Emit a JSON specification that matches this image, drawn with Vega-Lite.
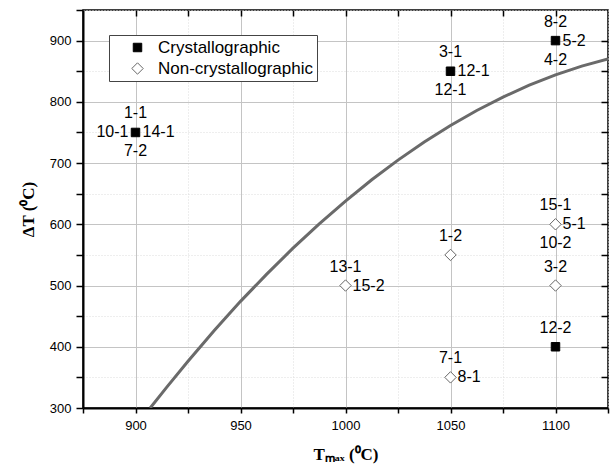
{
  "$schema": "https://vega.github.io/schema/vega-lite/v6.json",
  "width": 525,
  "height": 398,
  "autosize": {"type": "none"},
  "padding": {"left": 83, "top": 10, "right": 3, "bottom": 67},
  "background": "white",
  "config": {
    "view": {"stroke": "#000", "strokeWidth": 1.5},
    "font": "Liberation Sans"
  },
  "datasets": {
    "curve": [
      {"T": 907, "dT": 300}, {"T": 915, "dT": 334.6}, {"T": 925, "dT": 376.4},
      {"T": 937.5, "dT": 426.4}, {"T": 950, "dT": 474.2}, {"T": 962.5, "dT": 518.7},
      {"T": 975, "dT": 561}, {"T": 987.5, "dT": 600.8}, {"T": 1000, "dT": 638},
      {"T": 1012.5, "dT": 672.7}, {"T": 1025, "dT": 704.8}, {"T": 1037.5, "dT": 734.4},
      {"T": 1050, "dT": 761.4}, {"T": 1062.5, "dT": 785.9}, {"T": 1075, "dT": 807.8},
      {"T": 1087.5, "dT": 827.2}, {"T": 1100, "dT": 844}, {"T": 1112.5, "dT": 858.3},
      {"T": 1125, "dT": 870}
    ],
    "pts": [
      {"T": 900, "dT": 750, "type": "Crystallographic", "above": "1-1", "left": "10-1", "right": "14-1", "below": "7-2"},
      {"T": 1050, "dT": 850, "type": "Crystallographic", "above": "3-1", "right": "12-1", "below": "12-1"},
      {"T": 1100, "dT": 900, "type": "Crystallographic", "above": "8-2", "right": "5-2", "below": "4-2"},
      {"T": 1100, "dT": 400, "type": "Crystallographic", "above": "12-2"},
      {"T": 1000, "dT": 500, "type": "Non-crystallographic", "above": "13-1", "right": "15-2"},
      {"T": 1050, "dT": 550, "type": "Non-crystallographic", "above": "1-2"},
      {"T": 1050, "dT": 350, "type": "Non-crystallographic", "above": "7-1", "right": "8-1"},
      {"T": 1100, "dT": 600, "type": "Non-crystallographic", "above": "15-1", "right": "5-1", "below": "10-2"},
      {"T": 1100, "dT": 500, "type": "Non-crystallographic", "above": "3-2"}
    ]
  },
  "resolve": {"axis": {"x": "independent", "y": "independent"}},
  "layer": [
    {
      "data": {"name": "curve"},
      "mark": {"type": "line", "color": "#6a6a6a", "strokeWidth": 3, "clip": true},
      "encoding": {
        "x": {
          "field": "T", "type": "quantitative",
          "scale": {"domain": [875, 1125], "nice": false, "zero": false},
          "axis": {
            "orient": "bottom", "format": "d",
            "values": [875, 900, 925, 950, 975, 1000, 1025, 1050, 1075, 1100, 1125],
            "labelExpr": "datum.value % 50 === 0 ? datum.label : ''",
            "labelFontSize": 13, "labelColor": "#000", "labelPadding": 6,
            "labelFlush": false, "labelOverlap": false,
            "domainColor": "#000", "domainWidth": 2,
            "tickColor": "#000", "tickWidth": 1.5, "tickSize": 5,
            "grid": true,
            "gridColor": {"condition": {"test": "datum.value % 50 === 0", "value": "#c4c4c4"}, "value": "#dddddd"},
            "gridDash": {"condition": {"test": "datum.value % 50 === 0", "value": []}, "value": [1, 2]},
            "gridWidth": 1,
            "title": "Tₘₐₓ (⁰C)",
            "titleFont": "Liberation Serif", "titleFontWeight": "bold", "titleFontSize": 17,
            "titleColor": "#000", "titlePadding": 14
          }
        },
        "y": {
          "field": "dT", "type": "quantitative",
          "scale": {"domain": [300, 950], "nice": false, "zero": false},
          "axis": {
            "orient": "left", "format": "d",
            "values": [300, 350, 400, 450, 500, 550, 600, 650, 700, 750, 800, 850, 900, 950],
            "labelExpr": "datum.value % 100 === 0 ? datum.label : ''",
            "labelFontSize": 13, "labelColor": "#000", "labelPadding": 5,
            "labelFlush": false, "labelOverlap": false,
            "domainColor": "#000", "domainWidth": 2,
            "tickColor": "#000", "tickWidth": 1.5, "tickSize": 7,
            "grid": true,
            "gridColor": {"condition": {"test": "datum.value % 100 === 0", "value": "#c4c4c4"}, "value": "#dddddd"},
            "gridDash": {"condition": {"test": "datum.value % 100 === 0", "value": []}, "value": [1, 2]},
            "gridWidth": 1,
            "title": "ΔT (⁰C)",
            "titleFont": "Liberation Serif", "titleFontWeight": "bold", "titleFontSize": 17,
            "titleColor": "#000", "titlePadding": 12
          }
        }
      }
    },
    {
      "data": {"name": "pts"},
      "mark": {"type": "point", "filled": true, "opacity": 1, "strokeWidth": 1},
      "encoding": {
        "x": {
          "field": "T", "type": "quantitative",
          "axis": {
            "orient": "top", "labels": false, "title": null, "grid": false, "ticks": true,
            "values": [900, 925, 950, 975, 1000, 1025, 1050, 1075, 1100],
            "domain": false, "tickColor": "#000", "tickWidth": 1.5, "tickSize": 6, "offset": -6
          }
        },
        "y": {
          "field": "dT", "type": "quantitative",
          "axis": {
            "orient": "right", "labels": false, "title": null, "grid": false, "ticks": true,
            "values": [350, 400, 450, 500, 550, 600, 650, 700, 750, 800, 850, 900],
            "domain": false, "tickColor": "#000", "tickWidth": 1.5, "tickSize": 7, "offset": -7
          }
        },
        "shape": {
          "field": "type", "type": "nominal",
          "scale": {"domain": ["Crystallographic", "Non-crystallographic"], "range": ["square", "diamond"]},
          "legend": {
            "title": null, "orient": "none", "legendX": 26, "legendY": 25,
            "strokeColor": "#444", "fillColor": "white", "padding": 4,
            "symbolOffset": 16, "labelOffset": 12, "labelFontSize": 17, "labelColor": "#000",
            "rowPadding": 3, "symbolStrokeWidth": 1
          }
        },
        "fill": {
          "field": "type", "type": "nominal",
          "scale": {"domain": ["Crystallographic", "Non-crystallographic"], "range": ["#000000", "#ffffff"]}
        },
        "stroke": {
          "field": "type", "type": "nominal",
          "scale": {"domain": ["Crystallographic", "Non-crystallographic"], "range": ["#000000", "#666666"]}
        },
        "size": {
          "field": "type", "type": "nominal",
          "scale": {"domain": ["Crystallographic", "Non-crystallographic"], "range": [72, 130]}
        }
      }
    },
    {
      "data": {"name": "pts"},
      "transform": [{"filter": "datum.above"}],
      "mark": {"type": "text", "fontSize": 16, "color": "#000", "dy": -19, "align": "center", "baseline": "middle"},
      "encoding": {
        "x": {"field": "T", "type": "quantitative", "axis": null},
        "y": {"field": "dT", "type": "quantitative", "axis": null},
        "text": {"field": "above", "type": "nominal"}
      }
    },
    {
      "data": {"name": "pts"},
      "transform": [{"filter": "datum.below"}],
      "mark": {"type": "text", "fontSize": 16, "color": "#000", "dy": 19, "align": "center", "baseline": "middle"},
      "encoding": {
        "x": {"field": "T", "type": "quantitative", "axis": null},
        "y": {"field": "dT", "type": "quantitative", "axis": null},
        "text": {"field": "below", "type": "nominal"}
      }
    },
    {
      "data": {"name": "pts"},
      "transform": [{"filter": "datum.right"}],
      "mark": {"type": "text", "fontSize": 16, "color": "#000", "dx": 7, "align": "left", "baseline": "middle"},
      "encoding": {
        "x": {"field": "T", "type": "quantitative", "axis": null},
        "y": {"field": "dT", "type": "quantitative", "axis": null},
        "text": {"field": "right", "type": "nominal"}
      }
    },
    {
      "data": {"name": "pts"},
      "transform": [{"filter": "datum.left"}],
      "mark": {"type": "text", "fontSize": 16, "color": "#000", "dx": -7, "align": "right", "baseline": "middle"},
      "encoding": {
        "x": {"field": "T", "type": "quantitative", "axis": null},
        "y": {"field": "dT", "type": "quantitative", "axis": null},
        "text": {"field": "left", "type": "nominal"}
      }
    }
  ]
}
